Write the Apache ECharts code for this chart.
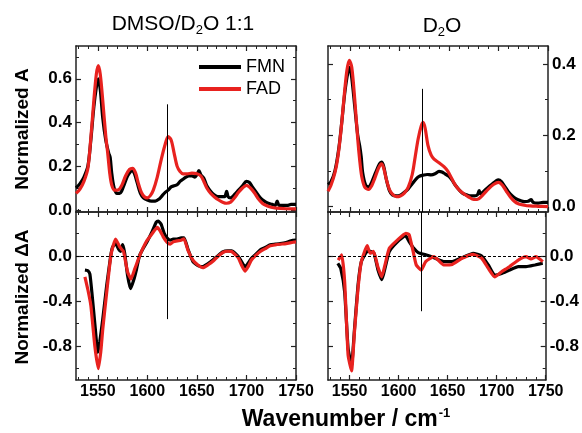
<!DOCTYPE html>
<html>
<head>
<meta charset="utf-8">
<script src="https://cdn.jsdelivr.net/npm/echarts@6/dist/echarts.min.js"></script>
<style>html,body{margin:0;padding:0;background:#fff}#c{width:582px;height:433px}</style>
</head>
<body>
<div id="c"></div>
<script>
// ---- tick labels ----
const xMajor = [1550, 1600, 1650, 1700, 1750];
const xMinor = [1530, 1540, 1560, 1570, 1580, 1590, 1610, 1620, 1630, 1640, 1660, 1670, 1680, 1690, 1710, 1720, 1730, 1740];
const yTopLeftMajor = [0, 0.2, 0.4, 0.6];
const yTopLeftMinor = [0.1, 0.3, 0.5, 0.7];
const yTopRightMajor = [0, 0.2, 0.4];
const yTopRightMinor = [0.1, 0.3];
const yBottomMajor = [0, -0.4, -0.8];
const yBottomMinor = [0.2, -0.2, -0.6, -1.0];
const seriesNames = ['FMN', 'FAD'];
const markerWnLeft = 1620;
const markerWnRight = 1623;

// ---- data: [wavenumber, value] ----
const topLeftFMN = [[1528,0.10],[1532,0.12],[1536,0.15],[1540,0.20],[1543,0.32],[1546,0.47],[1548.5,0.56],[1550.5,0.60],[1552.5,0.55],[1555,0.42],[1558,0.32],[1561,0.26],[1562.5,0.24],[1564,0.17],[1566,0.11],[1569,0.075],[1572,0.075],[1574,0.085],[1577,0.12],[1580,0.155],[1583,0.175],[1585,0.18],[1587,0.165],[1590,0.12],[1593,0.075],[1596,0.055],[1600,0.045],[1604,0.04],[1608,0.04],[1612,0.05],[1615,0.065],[1618,0.08],[1621,0.09],[1624,0.105],[1627,0.11],[1630,0.115],[1633,0.13],[1636,0.14],[1639,0.15],[1642,0.155],[1645,0.155],[1648,0.15],[1650,0.16],[1652,0.18],[1654,0.16],[1657,0.145],[1660,0.11],[1663,0.09],[1667,0.07],[1671,0.06],[1675,0.06],[1678,0.06],[1680,0.085],[1681.5,0.06],[1684,0.055],[1688,0.07],[1692,0.09],[1696,0.11],[1700,0.13],[1703,0.125],[1706,0.105],[1710,0.08],[1714,0.055],[1718,0.04],[1722,0.03],[1726,0.025],[1729,0.02],[1731,0.04],[1733,0.02],[1737,0.02],[1741,0.02],[1745,0.025],[1750,0.025]];
const topLeftFAD = [[1528,0.075],[1532,0.095],[1536,0.13],[1540,0.19],[1543,0.33],[1546,0.50],[1548.5,0.62],[1550.5,0.66],[1552.5,0.62],[1555,0.50],[1558,0.34],[1560,0.26],[1562,0.17],[1564,0.115],[1567,0.09],[1570,0.09],[1574,0.11],[1578,0.155],[1582,0.185],[1585,0.19],[1588,0.17],[1591,0.12],[1594,0.08],[1597,0.06],[1600,0.055],[1603,0.065],[1606,0.09],[1610,0.15],[1614,0.23],[1618,0.30],[1621,0.335],[1624,0.32],[1627,0.26],[1630,0.20],[1633,0.175],[1636,0.165],[1640,0.165],[1645,0.168],[1650,0.165],[1654,0.155],[1657,0.13],[1660,0.10],[1664,0.075],[1668,0.058],[1672,0.045],[1676,0.035],[1680,0.03],[1684,0.035],[1688,0.055],[1692,0.08],[1696,0.10],[1700,0.112],[1704,0.10],[1708,0.078],[1712,0.05],[1716,0.03],[1720,0.02],[1725,0.012],[1730,0.008],[1740,0.005],[1750,0.004]];
const topRightFMN = [[1528,0.062],[1531,0.07],[1535,0.10],[1539,0.165],[1542,0.24],[1545,0.32],[1548,0.375],[1550,0.39],[1552,0.36],[1555,0.28],[1558,0.20],[1560,0.17],[1561.5,0.14],[1563,0.095],[1566,0.06],[1569,0.055],[1572,0.068],[1576,0.095],[1580,0.12],[1582,0.125],[1584,0.115],[1587,0.075],[1590,0.045],[1593,0.033],[1597,0.03],[1601,0.032],[1605,0.04],[1609,0.05],[1613,0.064],[1617,0.078],[1620,0.085],[1624,0.088],[1628,0.09],[1632,0.089],[1636,0.092],[1640,0.099],[1643,0.097],[1646,0.092],[1650,0.085],[1653,0.075],[1656,0.062],[1660,0.048],[1664,0.037],[1668,0.033],[1672,0.03],[1676,0.03],[1679,0.034],[1680.5,0.045],[1682,0.036],[1686,0.045],[1690,0.055],[1694,0.064],[1698,0.073],[1700,0.075],[1703,0.07],[1706,0.058],[1710,0.042],[1714,0.03],[1718,0.022],[1722,0.017],[1726,0.014],[1730,0.015],[1733,0.02],[1735,0.012],[1740,0.01],[1745,0.012],[1750,0.012]];
const topRightFAD = [[1528,0.043],[1531,0.06],[1535,0.095],[1538,0.14],[1541,0.21],[1544,0.30],[1547,0.38],[1549.5,0.41],[1552,0.39],[1555,0.30],[1558,0.19],[1560,0.13],[1562,0.085],[1565,0.055],[1569,0.048],[1572,0.058],[1575,0.078],[1579,0.108],[1582,0.12],[1584,0.11],[1587,0.075],[1590,0.048],[1593,0.035],[1597,0.028],[1601,0.03],[1605,0.038],[1609,0.055],[1613,0.09],[1616,0.14],[1619,0.19],[1622,0.225],[1624,0.236],[1626,0.22],[1629,0.17],[1632,0.145],[1635,0.133],[1640,0.123],[1645,0.112],[1649,0.099],[1653,0.078],[1657,0.058],[1661,0.045],[1665,0.036],[1670,0.027],[1675,0.02],[1680,0.022],[1685,0.035],[1690,0.05],[1695,0.062],[1700,0.068],[1704,0.06],[1708,0.043],[1712,0.027],[1716,0.015],[1720,0.008],[1726,0.004],[1732,0.002],[1740,0.001],[1750,0.0]];
const bottomLeftFMN = [[1537,-0.125],[1540,-0.13],[1542,-0.16],[1544,-0.32],[1547,-0.60],[1550,-0.855],[1552,-0.76],[1555,-0.56],[1559,-0.26],[1563,0.0],[1565,0.08],[1568,0.11],[1571,0.06],[1573,0.04],[1575,0.10],[1577,0.03],[1580,-0.17],[1583,-0.29],[1586,-0.22],[1589,-0.12],[1592,0.0],[1596,0.07],[1600,0.13],[1605,0.22],[1609,0.30],[1611,0.31],[1614,0.28],[1617,0.20],[1620,0.16],[1623,0.14],[1626,0.15],[1630,0.15],[1634,0.16],[1637,0.16],[1641,0.06],[1646,-0.05],[1651,-0.085],[1656,-0.095],[1661,-0.07],[1666,-0.036],[1671,0.0],[1676,0.035],[1681,0.045],[1685,0.045],[1689,0.02],[1693,-0.02],[1697,-0.08],[1699,-0.095],[1702,-0.06],[1705,-0.02],[1710,0.02],[1714,0.055],[1719,0.075],[1724,0.1],[1729,0.105],[1734,0.11],[1740,0.12],[1745,0.135],[1750,0.14]];
const bottomLeftFAD = [[1537,-0.185],[1540,-0.30],[1543,-0.44],[1547,-0.80],[1550.5,-1.0],[1553,-0.85],[1555,-0.65],[1559,-0.32],[1562,-0.08],[1564,0.04],[1568,0.15],[1572,0.083],[1574,0.06],[1576,0.04],[1580,-0.14],[1583.5,-0.205],[1587.5,-0.11],[1592.6,0.01],[1599,0.128],[1605,0.2],[1610,0.253],[1613,0.22],[1616,0.17],[1620,0.12],[1623,0.104],[1626,0.125],[1630,0.134],[1634,0.14],[1637,0.152],[1641,0.05],[1646,-0.036],[1651,-0.08],[1656,-0.104],[1661,-0.08],[1666.5,-0.045],[1671,-0.005],[1676.6,0.033],[1681,0.042],[1685,0.04],[1689,0.01],[1692,-0.02],[1695,-0.08],[1698.5,-0.134],[1702,-0.09],[1705,-0.036],[1710,0.01],[1714,0.04],[1719,0.065],[1724,0.09],[1729,0.098],[1734,0.104],[1740,0.11],[1747,0.122],[1750,0.125]];
const bottomRightFMN = [[1538,-0.065],[1541,-0.11],[1545,-0.32],[1548.5,-0.82],[1552,-0.97],[1555,-0.65],[1558.6,-0.26],[1562,-0.05],[1568,0.04],[1571,0.04],[1575,0.024],[1579,-0.125],[1583,-0.21],[1586.5,-0.095],[1590.5,0.04],[1599,0.128],[1607,0.18],[1610.7,0.128],[1615.5,0.068],[1620,0.03],[1627.6,0.01],[1636,-0.015],[1646,-0.05],[1654.6,-0.05],[1664.7,-0.015],[1676,0.024],[1684.7,0.0],[1691.5,-0.08],[1698,-0.17],[1705,-0.155],[1713,-0.125],[1722,-0.095],[1730,-0.095],[1739,-0.08],[1747,-0.065]];
const bottomRightFAD = [[1538.4,-0.036],[1542,0.009],[1545,-0.23],[1548.5,-0.88],[1552,-1.02],[1555,-0.67],[1558.6,-0.29],[1562,-0.05],[1568,0.092],[1571,0.024],[1574.4,0.04],[1578.8,-0.095],[1582.8,-0.185],[1586.5,-0.065],[1590.5,0.068],[1599,0.143],[1607.4,0.2],[1610.7,0.19],[1614.8,0.04],[1618,-0.08],[1623,-0.125],[1627.6,-0.05],[1636,-0.006],[1646,-0.08],[1654.6,-0.075],[1664.7,-0.02],[1676,0.015],[1684.7,-0.02],[1691.5,-0.11],[1698,-0.185],[1705,-0.14],[1713,-0.095],[1722,-0.036],[1730,-0.006],[1735,-0.027],[1740,-0.006],[1747,-0.05]];

// ---- chart ----
const FONT = "'Liberation Sans', Arial, Helvetica, sans-serif";
const RED = '#e8221f';
const BLACK = '#000000';
const FRAME = '#222222';

const panels = [
  {left: 76, top: 46, height: 166, ymin: -0.01, ymax: 0.75, maj: yTopLeftMajor, min: yTopLeftMinor, labelSide: 'left', xLabels: false, fmn: topLeftFMN, fad: topLeftFAD, smooth: 0.3, marker: markerWnLeft, mark: [0.483, -0.01], zero: false},
  {left: 76, top: 212, height: 168, ymin: -1.1, ymax: 0.39, maj: yBottomMajor, min: yBottomMinor, labelSide: 'left', xLabels: true, fmn: bottomLeftFMN, fad: bottomLeftFAD, smooth: 0.15, marker: markerWnLeft, mark: [0.39, -0.56], zero: true},
  {left: 328, top: 46, height: 166, ymin: -0.015, ymax: 0.45, maj: yTopRightMajor, min: yTopRightMinor, labelSide: 'right', xLabels: false, fmn: topRightFMN, fad: topRightFAD, smooth: 0.3, marker: markerWnRight, mark: [0.33, -0.015], zero: false},
  {left: 328, top: 212, height: 168, ymin: -1.1, ymax: 0.39, maj: yBottomMajor, min: yBottomMinor, labelSide: 'right', xLabels: true, fmn: bottomRightFMN, fad: bottomRightFAD, smooth: 0.15, marker: markerWnRight, mark: [0.39, -0.49], zero: true}
];

const grid = [], xAxis = [], yAxis = [], series = [];
function fmtY(v) {
  const r = Math.round(v * 10) / 10;
  return r.toFixed(1);
}
function fmtX(v) { return String(Math.round(v)); }
panels.forEach((p, gi) => {
  grid.push({left: p.left, top: p.top, width: 220, height: p.height, containLabel: false});
  const xBase = xAxis.length;
  ['bottom', 'top'].forEach(pos => {
    xAxis.push({
      type: 'value', gridIndex: gi, position: pos, min: 1528, max: 1750,
      axisLine: {show: true, onZero: false, lineStyle: {color: FRAME, width: 1.5}},
      axisTick: {show: true, inside: true, length: 5, customValues: xMajor, lineStyle: {color: FRAME, width: 1.2}},
      axisLabel: {show: pos === 'bottom' && p.xLabels, customValues: xMajor, margin: 4, formatter: fmtX,
        fontFamily: FONT, fontWeight: 'bold', fontSize: 16, color: '#000'},
      splitLine: {show: false}
    });
    xAxis.push({
      type: 'value', gridIndex: gi, position: pos, min: 1528, max: 1750,
      axisLine: {show: false, onZero: false},
      axisTick: {show: true, inside: true, length: 3, customValues: xMinor, lineStyle: {color: FRAME, width: 1}},
      axisLabel: {show: false}, splitLine: {show: false}
    });
  });
  const yBase = yAxis.length;
  ['left', 'right'].forEach(pos => {
    yAxis.push({
      type: 'value', gridIndex: gi, position: pos, min: p.ymin, max: p.ymax,
      axisLine: {show: true, onZero: false, lineStyle: {color: FRAME, width: 1.5}},
      axisTick: {show: true, inside: true, length: 5, customValues: p.maj, lineStyle: {color: FRAME, width: 1.2}},
      axisLabel: {show: pos === p.labelSide, customValues: p.maj, margin: 4, formatter: fmtY,
        fontFamily: FONT, fontWeight: 'bold', fontSize: 17, color: '#000'},
      splitLine: {show: false}
    });
    yAxis.push({
      type: 'value', gridIndex: gi, position: pos, min: p.ymin, max: p.ymax,
      axisLine: {show: false, onZero: false},
      axisTick: {show: true, inside: true, length: 3, customValues: p.min, lineStyle: {color: FRAME, width: 1}},
      axisLabel: {show: false}, splitLine: {show: false}
    });
  });
  const markData = [[{coord: [p.marker, p.mark[0]]}, {coord: [p.marker, p.mark[1]]}]];
  if (p.zero) markData.push({yAxis: 0, lineStyle: {type: [3, 2], width: 1, color: '#000'}});
  series.push({
    name: seriesNames[0], type: 'line', xAxisIndex: xBase, yAxisIndex: yBase,
    data: p.fmn, showSymbol: false, smooth: p.smooth, z: 3,
    lineStyle: {color: BLACK, width: 3.2}, itemStyle: {color: BLACK},
    markLine: {silent: true, symbol: 'none', label: {show: false}, animation: false,
      lineStyle: {color: '#000', width: 1, type: 'solid'}, data: markData}
  });
  series.push({
    name: seriesNames[1], type: 'line', xAxisIndex: xBase, yAxisIndex: yBase,
    data: p.fad, showSymbol: false, smooth: p.smooth, z: 4,
    lineStyle: {color: RED, width: 3.2}, itemStyle: {color: RED}
  });
});

const subRich = {
  n: {fontFamily: FONT, fontSize: 21, fill: '#000'},
  s: {fontFamily: FONT, fontSize: 13, fill: '#000', padding: [12, 0, 0, 0]}
};
const option = {
  animation: false,
  backgroundColor: '#fff',
  grid, xAxis, yAxis, series,
  legend: {
    data: [{name: 'FMN', icon: 'rect'}, {name: 'FAD', icon: 'rect'}],
    orient: 'vertical', left: 199, top: 58, padding: 0, itemWidth: 42, itemHeight: 4, itemGap: 4,
    textStyle: {fontFamily: FONT, fontSize: 18, color: '#000'},
    selectedMode: false
  },
  graphic: [
    {type: 'text', x: 183, y: 24, style: {
      text: '{n|DMSO/D}{s|2}{n|O 1:1}', rich: subRich,
      align: 'center', verticalAlign: 'middle', textAlign: 'center', textVerticalAlign: 'middle'
    }},
    {type: 'text', x: 442, y: 26, style: {
      text: '{n|D}{s|2}{n|O}', rich: subRich,
      align: 'center', verticalAlign: 'middle', textAlign: 'center', textVerticalAlign: 'middle'
    }},
    {type: 'text', x: 23, y: 129, rotation: Math.PI / 2, style: {
      text: 'Normalized A', fontFamily: FONT, fontSize: 19, fontWeight: 'bold', fill: '#000',
      align: 'center', verticalAlign: 'middle', textAlign: 'center', textVerticalAlign: 'middle'
    }},
    {type: 'text', x: 23, y: 297, rotation: Math.PI / 2, style: {
      text: 'Normalized \u0394A', fontFamily: FONT, fontSize: 19, fontWeight: 'bold', fill: '#000',
      align: 'center', verticalAlign: 'middle', textAlign: 'center', textVerticalAlign: 'middle'
    }},
    {type: 'text', x: 346, y: 420, style: {
      text: '{n|Wavenumber / cm}{s|-1}',
      rich: {n: {fontFamily: FONT, fontSize: 23, fontWeight: 'bold', fill: '#000'}, s: {fontFamily: FONT, fontSize: 13, fontWeight: 'bold', fill: '#000', padding: [0, 0, 14, 1]}},
      align: 'center', verticalAlign: 'middle', textAlign: 'center', textVerticalAlign: 'middle'
    }}
  ]
};
const chart = echarts.init(document.getElementById('c'), null, {renderer: 'canvas'});
chart.setOption(option);
</script>
</body>
</html>
